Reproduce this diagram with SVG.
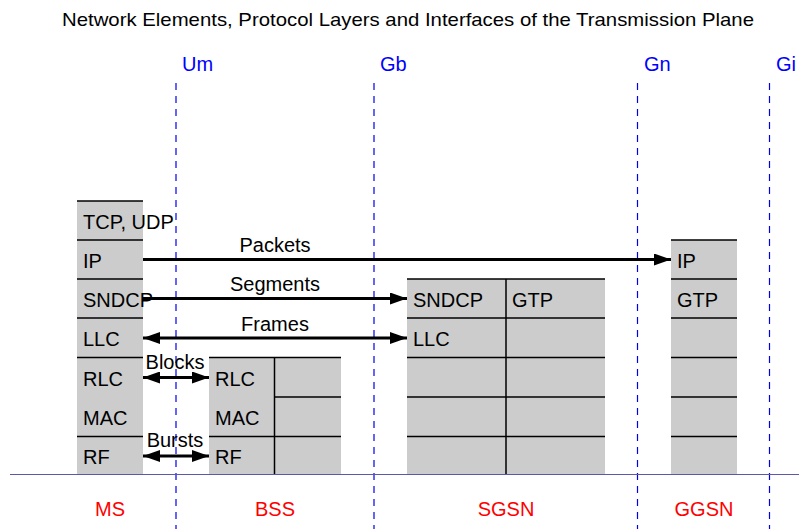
<svg xmlns="http://www.w3.org/2000/svg" width="799" height="529" viewBox="0 0 799 529">
<style>
text{font-family:"Liberation Sans",Arial,sans-serif}
.cell{font-size:20px;fill:#000}
.lbl{font-size:20px;fill:#000;text-anchor:middle}
.ifc{font-size:20px;fill:#0000ff}
.ne{font-size:20px;fill:#ff0000;text-anchor:middle}
.box{fill:#cccccc;stroke:none}
.sep{stroke:#000;stroke-width:1.5}
.dash{stroke:#0000ee;stroke-width:1.2;stroke-dasharray:7,6}
.arr{stroke:#000;stroke-width:2.8;fill:none}
</style>
<defs>
<marker id="ah" viewBox="0 0 17 12" refX="17" refY="6" markerWidth="17" markerHeight="12" markerUnits="userSpaceOnUse" orient="auto-start-reverse">
<path d="M0,0 L17,6 L0,12 Z" fill="#000"/>
</marker>
</defs>
<rect width="799" height="529" fill="#fff"/>
<text x="62" y="26" textLength="692" lengthAdjust="spacingAndGlyphs" style="font-size:19px">Network Elements, Protocol Layers and Interfaces of the Transmission Plane</text>

<g id="interfaces">
<line class="dash" x1="176" y1="83" x2="176" y2="529"/>
<line class="dash" x1="374" y1="83" x2="374" y2="529"/>
<line class="dash" x1="637.5" y1="83" x2="637.5" y2="529"/>
<line class="dash" x1="769.5" y1="83" x2="769.5" y2="529"/>
<text class="ifc" x="182" y="71">Um</text>
<text class="ifc" x="380" y="71">Gb</text>
<text class="ifc" x="644" y="71">Gn</text>
<text class="ifc" x="776" y="71">Gi</text>
</g>

<g id="MS">
<rect class="box" x="77" y="201" width="66" height="274"/>
<line class="sep" x1="77" y1="201" x2="143" y2="201"/>
<line class="sep" x1="77" y1="240" x2="143" y2="240"/>
<line class="sep" x1="77" y1="279" x2="143" y2="279"/>
<line class="sep" x1="77" y1="318" x2="143" y2="318"/>
<line class="sep" x1="77" y1="357.5" x2="143" y2="357.5"/>
<line class="sep" x1="77" y1="436.5" x2="143" y2="436.5"/>
<text class="cell" x="83" y="229">TCP, UDP</text>
<text class="cell" x="83" y="268">IP</text>
<text class="cell" x="83" y="307">SNDCP</text>
<text class="cell" x="83" y="346">LLC</text>
<text class="cell" x="83" y="386">RLC</text>
<text class="cell" x="83" y="425">MAC</text>
<text class="cell" x="83" y="464">RF</text>
<text class="ne" x="110" y="516">MS</text>
</g>

<g id="BSS">
<rect class="box" x="209" y="357.5" width="132" height="117.5"/>
<line class="sep" x1="209" y1="357.5" x2="341" y2="357.5"/>
<line class="sep" x1="274" y1="397" x2="341" y2="397"/>
<line class="sep" x1="209" y1="436.5" x2="341" y2="436.5"/>
<line class="sep" x1="274.5" y1="357.5" x2="274.5" y2="475"/>
<text class="cell" x="215" y="386">RLC</text>
<text class="cell" x="215" y="425">MAC</text>
<text class="cell" x="215" y="464">RF</text>
<text class="ne" x="275" y="516">BSS</text>
</g>

<g id="SGSN">
<rect class="box" x="407" y="279" width="198" height="196"/>
<line class="sep" x1="407" y1="279" x2="605" y2="279"/>
<line class="sep" x1="407" y1="318" x2="605" y2="318"/>
<line class="sep" x1="407" y1="357.5" x2="605" y2="357.5"/>
<line class="sep" x1="407" y1="397" x2="605" y2="397"/>
<line class="sep" x1="407" y1="436.5" x2="605" y2="436.5"/>
<line class="sep" x1="506" y1="279" x2="506" y2="475"/>
<text class="cell" x="413" y="307">SNDCP</text>
<text class="cell" x="512" y="307">GTP</text>
<text class="cell" x="413" y="346">LLC</text>
<text class="ne" x="506" y="516">SGSN</text>
</g>

<g id="GGSN">
<rect class="box" x="671" y="240" width="66" height="235"/>
<line class="sep" x1="671" y1="240" x2="737" y2="240"/>
<line class="sep" x1="671" y1="279" x2="737" y2="279"/>
<line class="sep" x1="671" y1="318" x2="737" y2="318"/>
<line class="sep" x1="671" y1="357.5" x2="737" y2="357.5"/>
<line class="sep" x1="671" y1="397" x2="737" y2="397"/>
<line class="sep" x1="671" y1="436.5" x2="737" y2="436.5"/>
<text class="cell" x="677" y="268">IP</text>
<text class="cell" x="677" y="307">GTP</text>
<text class="ne" x="704" y="516">GGSN</text>
</g>

<line x1="10" y1="474.5" x2="799" y2="474.5" stroke="#5a5aa8" stroke-width="1.2"/>

<g id="connectors">
<line class="arr" x1="143" y1="259.5" x2="671" y2="259.5" marker-end="url(#ah)"/>
<line class="arr" x1="143" y1="298.5" x2="407" y2="298.5" marker-end="url(#ah)"/>
<line class="arr" x1="143" y1="338" x2="407" y2="338" marker-start="url(#ah)" marker-end="url(#ah)"/>
<line class="arr" x1="143" y1="377.5" x2="209" y2="377.5" marker-start="url(#ah)" marker-end="url(#ah)"/>
<line class="arr" x1="143" y1="456" x2="209" y2="456" marker-start="url(#ah)" marker-end="url(#ah)"/>
<text class="lbl" x="275" y="252">Packets</text>
<text class="lbl" x="275" y="291">Segments</text>
<text class="lbl" x="275" y="331">Frames</text>
<text class="lbl" x="175" y="369">Blocks</text>
<text class="lbl" x="175" y="447">Bursts</text>
</g>
</svg>
